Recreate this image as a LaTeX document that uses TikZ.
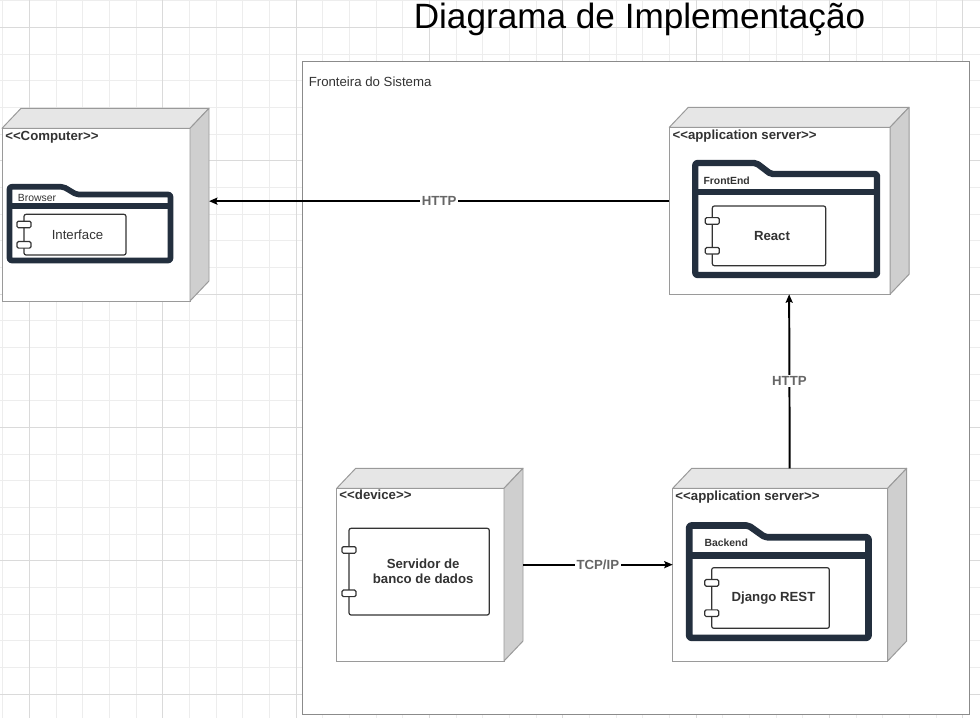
\documentclass[tikz,border=0pt]{standalone}
\usepackage{fontspec}
\setmainfont{Liberation Sans}[Ligatures=TeXOff]
\usetikzlibrary{arrows.meta,calc,fit,shadows}
\definecolor{ink}{HTML}{333333}
\definecolor{navy}{HTML}{232F3E}
\definecolor{edge}{HTML}{9A9A9A}
\definecolor{topf}{HTML}{E6E6E6}
\definecolor{sidef}{HTML}{CFCFCF}
\definecolor{gridmin}{HTML}{EDEDED}
\definecolor{gridmaj}{HTML}{DADADA}
\definecolor{labelgray}{HTML}{666666}

\begin{document}
\begin{tikzpicture}[
  x=0.025cm, y=-0.025cm,
  font=\fontsize{9.4}{11}\selectfont, text=ink,
  box/.style={draw=edge, fill=white, line width=.7pt, inner sep=0pt, outer sep=0pt},
  topface/.style={draw=edge, fill=topf, line width=.7pt, line join=round},
  sideface/.style={draw=edge, fill=sidef, line width=.7pt, line join=round},
  stereo/.style={font=\fontsize{9.4}{11}\selectfont\bfseries, anchor=base west, inner sep=0pt},
  pkg/.style={fill=white, inner sep=0pt, outer sep=0pt},
  pkgline/.style={draw=navy, line width=#1, rounded corners=1.5pt, line join=round},
  pkgline/.default=4.5pt,
  pkgname/.style={font=\fontsize{7.4}{9}\selectfont, anchor=base west, inner sep=0pt},
  comp/.style={draw=ink, fill=white, line width=.85pt, rounded corners=1.5pt, inner sep=0pt, outer sep=0pt},
  comptext/.style={align=center, inner sep=0pt, font=\fontsize{9.4}{10.7}\selectfont\bfseries},
  port/.style={draw=ink, fill=white, line width=.85pt, rounded corners=1pt, inner sep=0pt,
               minimum width=3.5mm, minimum height=1.65mm},
  ar/.style={-{Stealth[length=6pt, width=5pt, inset=1pt]}, line width=1.4pt, draw=black},
  conn/.style={fill=white, text=labelgray, font=\fontsize{9.4}{11}\selectfont\bfseries, inner sep=1pt},
]
\useasboundingbox (0,0) rectangle (980,718);

%% ---------------- grid ----------------
\begin{scope}
  \clip (0,0) rectangle (980,718);
  \foreach \i in {0,...,36} \draw[gridmin, line width=.6pt] ({2.67+26.667*\i},0) -- ++(0,718);
  \foreach \i in {0,...,26} \draw[gridmin, line width=.6pt] (0,{0.67+26.667*\i}) -- ++(980,0);
  \foreach \i in {0,...,7} \draw[gridmaj, line width=.6pt] ({29.33+133.33*\i},0) -- ++(0,718);
  \foreach \i in {0,...,5} \draw[gridmaj, line width=.6pt] (0,{27.33+133.33*\i}) -- ++(980,0);
\end{scope}

%% ---------------- title and system boundary ----------------
\node[anchor=base, font=\fontsize{25}{29}\selectfont, text=black] (title) at (639.5,28.6)
  {Diagrama de Implementação};

\node[draw=edge!90!black, fill=white, line width=.7pt, inner sep=0pt,
      drop shadow={shadow xshift=.7pt, shadow yshift=-.7pt, opacity=.3},
      fit={(302.3,61) (969,714)}] (sys) {};
\node[anchor=base west, inner sep=0pt] (sys-name) at ([shift={(6.7,26.3)}]sys.north west)
  {Fronteira do Sistema};

%% ---------------- node boxes (front faces) ----------------
\node[box, fit={(2,128.3) (190,301)}] (pc) {};
\node[box, fit={(669.3,127.3) (890,294.3)}] (front) {};
\node[box, fit={(336.7,488.3) (504,661)}] (dev) {};
\node[box, fit={(672.7,488.3) (887.7,661)}] (back) {};

\foreach \nd in {pc,front,dev,back}{
  \draw[topface] (\nd.north west) -- ++(19,-20) -- ([shift={(19,-20)}]\nd.north east)
    -- (\nd.north east) -- cycle;
  \draw[sideface] (\nd.north east) -- ++(19,-20) -- ([shift={(19,-20)}]\nd.south east)
    -- (\nd.south east) -- cycle;
}

\node[stereo] (pc-st) at ([shift={(3,12.2)}]pc.north west) {<<Computer>>};
\node[stereo] (front-st) at ([shift={(3,11.7)}]front.north west) {<<application server>>};
\node[stereo] (dev-st) at ([shift={(2.5,10.7)}]dev.north west) {<<device>>};
\node[stereo] (back-st) at ([shift={(2.5,11.7)}]back.north west) {<<application server>>};

%% ---------------- packages ----------------
\node[pkg, fit={(9.5,194.5) (170.5,260.5)}] (browser) {};
\draw[pkgline=4pt] (browser.south west) -- ([shift={(0,-7.7)}]browser.north west) -- ++(54,0)
  -- ++(13,7.7) -- (browser.north east) -- (browser.south east) -- cycle;
\draw[pkgline=4pt] ([shift={(0,11.3)}]browser.north west) -- ([shift={(0,11.3)}]browser.north east);
\node[pkgname] (browser-name) at ([shift={(8.2,6.5)}]browser.north west) {Browser};

\node[pkg, fit={(695.3,174) (877,275)}] (fe) {};
\draw[pkgline] (fe.south west) -- ([shift={(0,-11)}]fe.north west) -- ++(61,0)
  -- ++(14.5,11) -- (fe.north east) -- (fe.south east) -- cycle;
\draw[pkgline] ([shift={(0,18.2)}]fe.north west) -- ([shift={(0,18.2)}]fe.north east);
\node[pkgname, font=\fontsize{7.4}{9}\selectfont\bfseries] (fe-name) at ([shift={(8,10.3)}]fe.north west) {FrontEnd};

\node[pkg, fit={(689.2,537.2) (868.5,637.8)}] (be) {};
\draw[pkgline=4.7pt] (be.south west) -- ([shift={(0,-11.7)}]be.north west) -- ++(59.3,0)
  -- ++(16.5,11.7) -- (be.north east) -- (be.south east) -- cycle;
\draw[pkgline=4.7pt] ([shift={(0,18)}]be.north west) -- ([shift={(0,18)}]be.north east);
\node[pkgname, font=\fontsize{7.4}{9}\selectfont\bfseries] (be-name) at ([shift={(15.1,9.5)}]be.north west) {Backend};

%% ---------------- components ----------------
\node[comp, fit={(24,214.3) (126,255)}] (iface) {};
\node[comp, fit={(712.3,206) (825.7,265.7)}] (react) {};
\node[comp, fit={(349,528.3) (489.3,615)}] (db) {};
\node[comp, fit={(711.7,567.7) (829.3,628.3)}] (django) {};

\foreach \c in {iface,react,db,django}{
  \node[port] (\c-p1) at ($(\c.north west)!.25!(\c.south west)$) {};
  \node[port] (\c-p2) at ($(\c.north west)!.75!(\c.south west)$) {};
}

\node[comptext, font=\fontsize{9.4}{11}\selectfont] (iface-t) at ([shift={(2.5,0)}]iface.center) {Interface};
\node[comptext] (react-t) at ([shift={(3,0)}]react.center) {React};
\node[comptext] (db-t) at ([shift={(4,0)}]db.center) {Servidor de\\banco de dados};
\node[comptext] (django-t) at ([shift={(3,0)}]django.center) {Django REST};

%% ---------------- connectors ----------------
\coordinate (pcside) at ([shift={(19,-13.5)}]pc.east);
\draw[ar] (front.west |- pcside) -- node[conn] (http1) {HTTP} (pcside);
\draw[ar] ([shift={(9.5,-20)}]back.north) -- node[conn] (http2) {HTTP} ([shift={(9.5,0)}]front.south);
\draw[ar] ([shift={(19,-10)}]dev.east) -- node[conn] (tcp) {TCP/IP} ([shift={(0,-10)}]back.west);

\end{tikzpicture}
\end{document}
